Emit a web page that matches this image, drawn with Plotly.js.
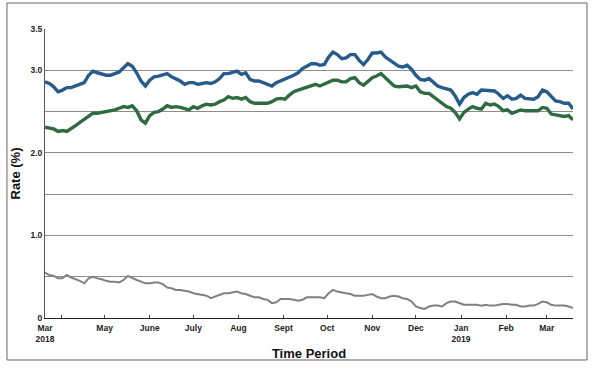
<!DOCTYPE html>
<html>
<head>
<meta charset="utf-8">
<script src="https://cdn.plot.ly/plotly-3.0.1.min.js"></script>
<style>
html,body{margin:0;padding:0;background:#fff;}
#chart{width:597px;height:368px;}
</style>
</head>
<body>
<div id="chart"></div>
<script>
// Observation dates (every 3 days)
const dates = [
'2018-03-21','2018-03-24','2018-03-27','2018-03-30','2018-04-02','2018-04-05','2018-04-08','2018-04-11','2018-04-14','2018-04-17',
'2018-04-20','2018-04-23','2018-04-26','2018-04-29','2018-05-02','2018-05-05','2018-05-08','2018-05-11','2018-05-14','2018-05-17',
'2018-05-20','2018-05-23','2018-05-26','2018-05-29','2018-06-01','2018-06-04','2018-06-07','2018-06-10','2018-06-13','2018-06-16',
'2018-06-19','2018-06-22','2018-06-25','2018-06-28','2018-07-01','2018-07-04','2018-07-07','2018-07-10','2018-07-13','2018-07-16',
'2018-07-19','2018-07-22','2018-07-25','2018-07-28','2018-07-31','2018-08-03','2018-08-06','2018-08-09','2018-08-12','2018-08-15',
'2018-08-18','2018-08-21','2018-08-24','2018-08-27','2018-08-30','2018-09-02','2018-09-05','2018-09-08','2018-09-11','2018-09-14',
'2018-09-17','2018-09-20','2018-09-23','2018-09-26','2018-09-29','2018-10-02','2018-10-05','2018-10-08','2018-10-11','2018-10-14',
'2018-10-17','2018-10-20','2018-10-23','2018-10-26','2018-10-29','2018-11-01','2018-11-04','2018-11-07','2018-11-10','2018-11-13',
'2018-11-16','2018-11-19','2018-11-22','2018-11-25','2018-11-28','2018-12-01','2018-12-04','2018-12-07','2018-12-10','2018-12-13',
'2018-12-16','2018-12-19','2018-12-22','2018-12-25','2018-12-28','2018-12-31','2019-01-03','2019-01-06','2019-01-09','2019-01-12',
'2019-01-15','2019-01-18','2019-01-21','2019-01-24','2019-01-27','2019-01-30','2019-02-02','2019-02-05','2019-02-08','2019-02-11',
'2019-02-14','2019-02-17','2019-02-20','2019-02-23','2019-02-26','2019-03-01','2019-03-04','2019-03-07','2019-03-10','2019-03-13',
'2019-03-16','2019-03-19'
];

// Blue series (top)
const blueRates = [
2.86,2.84,2.80,2.74,2.76,2.79,2.79,2.81,2.82,2.85,
2.94,2.99,2.97,2.95,2.94,2.94,2.96,2.98,3.03,3.08,
3.05,2.97,2.87,2.81,2.88,2.92,2.93,2.95,2.96,2.92,
2.90,2.87,2.83,2.85,2.85,2.83,2.84,2.85,2.84,2.86,
2.90,2.96,2.96,2.98,2.99,2.95,2.97,2.89,2.87,2.87,
2.85,2.82,2.81,2.85,2.87,2.89,2.91,2.94,2.97,3.02,
3.05,3.08,3.08,3.06,3.07,3.16,3.22,3.19,3.14,3.15,
3.19,3.19,3.12,3.07,3.13,3.21,3.21,3.22,3.16,3.12,
3.08,3.05,3.04,3.06,3.01,2.94,2.89,2.88,2.90,2.86,
2.81,2.79,2.78,2.76,2.69,2.59,2.67,2.71,2.73,2.71,
2.76,2.76,2.75,2.75,2.71,2.66,2.69,2.65,2.66,2.70,
2.66,2.66,2.65,2.68,2.76,2.74,2.68,2.63,2.62,2.60,
2.60,2.53
];

// Green series (middle)
const greenRates = [
2.31,2.30,2.29,2.26,2.27,2.26,2.29,2.33,2.37,2.41,
2.45,2.48,2.48,2.49,2.49,2.50,2.52,2.54,2.56,2.55,
2.57,2.51,2.40,2.36,2.45,2.49,2.50,2.53,2.57,2.55,
2.56,2.55,2.53,2.52,2.56,2.54,2.57,2.59,2.58,2.59,
2.62,2.64,2.68,2.66,2.67,2.65,2.67,2.62,2.60,2.60,
2.59,2.60,2.62,2.65,2.66,2.65,2.70,2.74,2.76,2.78,
2.80,2.82,2.83,2.81,2.83,2.85,2.88,2.88,2.86,2.86,
2.90,2.91,2.85,2.82,2.87,2.91,2.93,2.96,2.91,2.86,
2.81,2.80,2.81,2.81,2.79,2.81,2.74,2.72,2.72,2.68,
2.64,2.60,2.56,2.54,2.49,2.41,2.49,2.53,2.56,2.54,
2.53,2.60,2.58,2.59,2.56,2.51,2.52,2.48,2.50,2.52,
2.51,2.51,2.50,2.51,2.55,2.54,2.47,2.46,2.45,2.44,
2.45,2.40
];

// Gray series (bottom)
const grayRates = [
0.55,0.52,0.51,0.48,0.48,0.52,0.49,0.47,0.45,0.42,
0.48,0.50,0.48,0.47,0.45,0.44,0.44,0.43,0.46,0.51,
0.48,0.46,0.44,0.42,0.42,0.43,0.43,0.41,0.37,0.36,
0.34,0.34,0.33,0.32,0.30,0.29,0.28,0.27,0.24,0.26,
0.28,0.30,0.30,0.31,0.32,0.30,0.29,0.27,0.25,0.25,
0.23,0.22,0.18,0.19,0.23,0.23,0.23,0.22,0.21,0.22,
0.25,0.25,0.25,0.25,0.24,0.30,0.34,0.32,0.31,0.30,
0.29,0.27,0.27,0.27,0.28,0.29,0.26,0.24,0.24,0.26,
0.27,0.26,0.24,0.23,0.20,0.14,0.12,0.11,0.14,0.15,
0.15,0.14,0.18,0.20,0.20,0.18,0.16,0.16,0.16,0.16,
0.15,0.16,0.15,0.15,0.16,0.17,0.17,0.16,0.16,0.14,
0.14,0.15,0.15,0.17,0.20,0.19,0.16,0.15,0.15,0.15,
0.14,0.12
];

// Axis ticks
const xTickVals = ['2018-03-21','2018-04-01','2018-05-01','2018-06-01','2018-07-01','2018-08-01','2018-09-01','2018-10-01','2018-11-01','2018-12-01','2019-01-01','2019-02-01','2019-03-01'];
const xTickText = ['Mar<br>2018','','May','June','July','Aug','Sept','Oct','Nov','Dec','Jan<br>2019','Feb','Mar'];
const yTickVals = [0,0.5,1.0,1.5,2.0,2.5,3.0,3.5];
const yTickText = ['0','','1.0','','2.0','','3.0','3.5'];
const xRange = ['2018-03-21','2019-03-19'];

const traces = [
  {x: dates, y: blueRates, type:'scatter', mode:'lines', line:{color:'#265b8c', width:3.4}, hoverinfo:'skip'},
  {x: dates, y: greenRates, type:'scatter', mode:'lines', line:{color:'#2f6b40', width:3.4}, hoverinfo:'skip'},
  {x: dates, y: grayRates, type:'scatter', mode:'lines', line:{color:'#808080', width:2}, hoverinfo:'skip'}
];

const tickFont = {family:'Liberation Sans, Arial, sans-serif', size:8.5, color:'#222', weight:'bold'};

const layout = {
  width:597, height:368,
  margin:{l:45, r:24, t:29, b:50},
  paper_bgcolor:'#fff', plot_bgcolor:'#fff',
  showlegend:false,
  font:{family:'Liberation Sans, Arial, sans-serif'},
  xaxis:{
    type:'date', range:xRange, autorange:false,
    tickmode:'array', tickvals:xTickVals, ticktext:xTickText,
    tickfont:tickFont, ticks:'inside', ticklen:3, tickcolor:'#444',
    ticklabelstandoff:2,
    showgrid:false, zeroline:false,
    showline:true, linecolor:'#222', linewidth:1,
    title:{text:'Time Period', font:{size:13, color:'#111', weight:'bold'}, standoff:5},
    automargin:false
  },
  yaxis:{
    range:[0,3.5], autorange:false,
    tickmode:'array', tickvals:yTickVals, ticktext:yTickText,
    tickfont:tickFont, ticks:'',
    showgrid:true, gridcolor:'#8c8c8c', gridwidth:1,
    zeroline:false,
    showline:true, linecolor:'#555', linewidth:1,
    title:{text:'Rate (%)', font:{size:13, color:'#111', weight:'bold'}, standoff:6},
    automargin:false
  },
  shapes:[
    {type:'rect', xref:'paper', yref:'paper', x0:-0.072, x1:1.0265, y0:-0.1453, y1:1.090,
     line:{color:'#666', width:1}, fillcolor:'rgba(0,0,0,0)', layer:'below'}
  ]
};

Plotly.newPlot('chart', traces, layout, {displayModeBar:false, staticPlot:true});
</script>
</body>
</html>
